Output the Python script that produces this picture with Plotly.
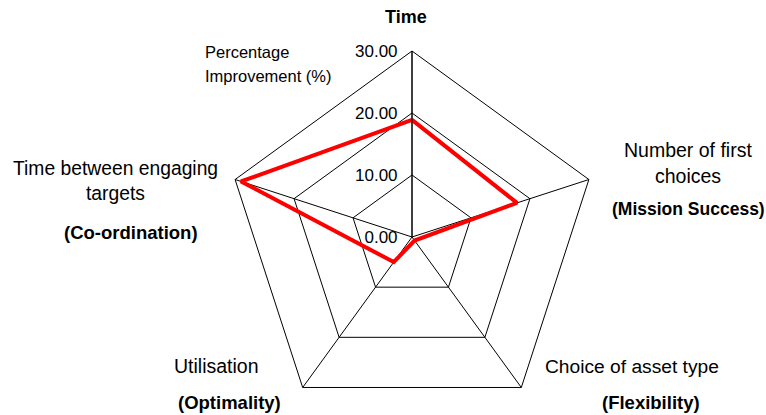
import plotly.graph_objects as go

# ---- data ----
categories = ["Time", "Number of first choices", "Choice of asset type",
              "Utilisation", "Time between engaging targets"]
improvement = [18.9, 17.8, 0.7, 5.0, 29.0]
baseline = [0, 0, 0, 0, 0]
tick_values = [0, 10, 20, 30]
tick_labels = ["0.00", "10.00", "20.00", "30.00"]

W, H = 766, 423
cx, cy, R = 412, 237, 186

fig = go.Figure()
fig.add_trace(go.Scatterpolar(
    r=improvement + improvement[:1], theta=categories + categories[:1],
    mode="lines", line=dict(color="#FF0000", width=4), hoverinfo="skip"))
fig.add_trace(go.Scatterpolar(
    r=baseline + baseline[:1], theta=categories + categories[:1],
    mode="lines+markers", line=dict(color="#000080", width=1),
    marker=dict(color="#000080", size=3), hoverinfo="skip"))

font = "Liberation Sans, Arial, sans-serif"


def ann(text, px, py, size, bold=False, xanchor="center"):
    return dict(text=("<b>%s</b>" % text) if bold else text,
                x=px / W, y=1 - py / H, xref="paper", yref="paper",
                xanchor=xanchor, yanchor="middle", showarrow=False,
                font=dict(family=font, size=size, color="black"))


annotations = [
    ann("Time", 406, 17, 18, True),
    ann("Percentage", 203, 52, 16.5, xanchor="left"),
    ann("Improvement (%)", 203, 76, 16.5, xanchor="left"),
    ann("Number of first", 688, 150, 19.5),
    ann("choices", 688, 176, 19.5),
    ann("(Mission Success)", 688, 209, 17.5, True),
    ann("Time between engaging", 11, 168, 19.3, xanchor="left"),
    ann("targets", 115, 193, 19.3),
    ann("(Co-ordination)", 131, 232, 18.5, True),
    ann("Utilisation", 216, 366, 19.5),
    ann("(Optimality)", 229, 402, 18.5, True),
    ann("Choice of asset type", 632, 366, 19.2),
    ann("(Flexibility)", 651, 402, 18.5, True),
]

fig.update_layout(
    width=W, height=H,
    margin=dict(l=0, r=0, t=0, b=0),
    paper_bgcolor="white", plot_bgcolor="white",
    showlegend=False,
    annotations=annotations,
    polar=dict(
        domain=dict(x=[(cx - R) / W, (cx + R) / W], y=[0, 2 * R / H]),
        bgcolor="white",
        gridshape="linear",
        angularaxis=dict(
            rotation=90, direction="clockwise",
            showticklabels=False, ticks="",
            showline=True, linecolor="black", linewidth=1,
            showgrid=True, gridcolor="black", gridwidth=1,
        ),
        radialaxis=dict(
            range=[0, 30], angle=90, side="counterclockwise",
            tickvals=tick_values, ticktext=tick_labels, tickangle=90,
            ticks="outside", ticklen=8, tickcolor="rgba(0,0,0,0)",
            showline=True, linecolor="black", linewidth=1,
            showgrid=True, gridcolor="black", gridwidth=1,
            tickfont=dict(family=font, size=17, color="black"),
        ),
    ),
)

fig.write_html("out.html",
               post_script="document.documentElement.style.overflow='hidden';"
                           "document.body.style.overflow='hidden';"
                           "document.body.style.margin='0';")
